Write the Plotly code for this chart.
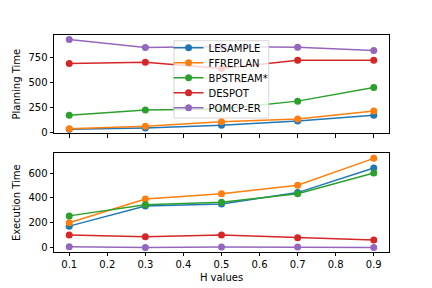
import plotly.graph_objects as go

h_values = [0.1, 0.3, 0.5, 0.7, 0.9]
methods = ["LESAMPLE", "FFREPLAN", "BPSTREAM*", "DESPOT", "POMCP-ER"]
colors = ["#1f77b4", "#ff7f0e", "#2ca02c", "#d62728", "#9467bd"]

planning_lesample = [27, 40, 67, 110, 168]
planning_ffreplan = [33, 57, 103, 131, 211]
planning_bpstream = [168, 221, 231, 311, 449]
planning_despot = [690, 703, 640, 723, 723]
planning_pomcp = [931, 850, 860, 853, 820]

exec_lesample = [172, 334, 350, 443, 642]
exec_ffreplan = [200, 392, 433, 503, 720]
exec_bpstream = [255, 344, 366, 433, 602]
exec_despot = [100, 86, 100, 78, 60]
exec_pomcp = [6, 0, 3, 3, 0]

planning = [planning_lesample, planning_ffreplan, planning_bpstream, planning_despot, planning_pomcp]
execution = [exec_lesample, exec_ffreplan, exec_bpstream, exec_despot, exec_pomcp]

legend_ids = ["legend", "legend2", "legend3", "legend4", "legend5"]

fig = go.Figure()
for name, col, ys, lg in zip(methods, colors, planning, legend_ids):
    fig.add_trace(go.Scatter(x=h_values, y=ys, name=name, mode="lines+markers",
                             line=dict(color=col, width=1.5),
                             marker=dict(color=col, size=7),
                             xaxis="x", yaxis="y", showlegend=True, legend=lg))
for name, col, ys in zip(methods, colors, execution):
    fig.add_trace(go.Scatter(x=h_values, y=ys, name=name, mode="lines+markers",
                             line=dict(color=col, width=1.5),
                             marker=dict(color=col, size=7),
                             xaxis="x2", yaxis="y2", showlegend=False))

font = dict(family="DejaVu Sans", size=10, color="black")
axis_common = dict(showline=True, mirror=True, linecolor="black", linewidth=0.8,
                   ticks="outside", ticklen=3.5, tickwidth=0.8, tickcolor="black",
                   showgrid=False, zeroline=False, tickfont=font, automargin=False)

# legend layout (paper coordinates)
legend_x = 0.342
legend_rows_y = [0.9415, 0.8724, 0.8032, 0.7341, 0.6650]
legends = {}
for lg, yy in zip(legend_ids, legend_rows_y):
    legends[lg] = dict(x=legend_x, y=yy, xanchor="left", yanchor="middle",
                       bgcolor="rgba(0,0,0,0)", borderwidth=0,
                       font=font, itemwidth=30)

# the page body adds an 8px offset, so the figure is 8px smaller on each side
fig.update_layout(
    width=424, height=280,
    margin=dict(l=46, r=43, t=27, b=36),
    paper_bgcolor="white", plot_bgcolor="white",
    font=font,
    xaxis=dict(domain=[0, 1], range=[0.06, 0.94], tickvals=[0.1, 0.2, 0.3, 0.4, 0.5, 0.6, 0.7, 0.8, 0.9],
               showticklabels=False, anchor="y", **axis_common),
    yaxis=dict(domain=[0.547, 1.0], range=[-13, 977], tickvals=[0, 250, 500, 750],
               title=dict(text="Planning Time", font=font, standoff=5), anchor="x", **axis_common),
    xaxis2=dict(domain=[0, 1], range=[0.06, 0.94], tickvals=[0.1, 0.2, 0.3, 0.4, 0.5, 0.6, 0.7, 0.8, 0.9],
                ticktext=["0.1", "0.2", "0.3", "0.4", "0.5", "0.6", "0.7", "0.8", "0.9"],
                title=dict(text="H values", font=font, standoff=4), anchor="y2", **axis_common),
    yaxis2=dict(domain=[0, 0.455], range=[-37, 761], tickvals=[0, 200, 400, 600],
                title=dict(text="Execution Time", font=font, standoff=5), anchor="x2", **axis_common),
    shapes=[dict(type="rect", xref="paper", yref="paper",
                 x0=0.358, x1=0.641, y0=0.6175, y1=0.9737,
                 line=dict(color="#cccccc", width=0.8),
                 fillcolor="rgba(255,255,255,0.8)", layer="above")],
    **legends,
)

fig.write_html("out.html")
